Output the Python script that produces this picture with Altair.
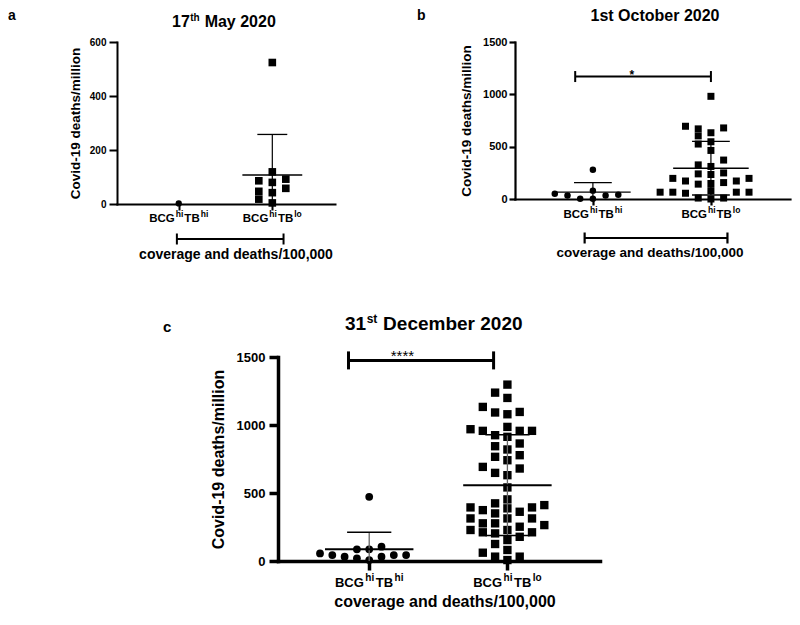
import altair as alt
import pandas as pd

# ------------------------------------------------------------------ data
cat_pos = [1, 2]                 # BCG^hi TB^hi , BCG^hi TB^lo
cat_sup2 = ["hi", "lo"]          # second superscript of each category label

# a : 17th May 2020
a_hi = [2]
a_lo = [524, 119, 92, 58, 4, 86, 42, 80, 47, 18]
# b : 1st October 2020
b_hi = [80, 3, 50, 280, 34, 40, 3, 34]
b_lo = [981, 695, 633, 679, 603, 670, 547, 525, 464, 372, 326, 311, 197, 172,
        234, 249, 172, 240, 197, 80, 142, 148, 157, 65, 65, 55, 65, 65, 9, 9, 0]
# c : 31st December 2020
c_hi = [105, 32, 56, 44, 44, 472, 86, 7, 44, 86, 20, 32]
c_lo = [1297, 1199, 1238, 1096, 1079, 1092, 1133, 969, 957, 957, 957, 913, 986, 925,
        820, 766, 692, 864, 844, 778, 741, 648, 631, 680, 541, 453, 394, 394, 424,
        411, 374, 387, 362, 350, 313, 313, 277, 277, 264, 313, 252, 211, 228, 228,
        203, 178, 211, 154, 125, 81, 61, 7, 32, 32]

a_yticks = [0, 200, 400, 600]
bc_yticks = [0, 500, 1000, 1500]

b_sig = {"x1": 0.85, "x2": 2.0, "y": 1170, "sx": 1.33, "label": "*"}
c_sig = {"x1": 0.85, "x2": 1.9, "y": 1475, "sx": 1.24, "label": "****"}
a_group_bracket = [0.98, 2.12]
b_group_bracket = [0.93, 2.14]

y_title = "Covid-19 deaths/million"
x_title = "coverage and deaths/100,000"

# ------------------------------------------------------------------ helpers
FONT = "Liberation Sans"
XDOM = [0.34, 2.67]
CW = {"0": 556, "1": 556, "2": 556, "3": 556, "7": 556, " ": 278, "M": 833, "a": 556,
      "y": 556, "t": 333, "h": 611, "s": 556, "D": 722, "e": 556, "c": 556, "m": 889,
      "b": 611, "r": 389, "B": 722, "C": 722, "G": 778, "T": 611, "i": 278, "l": 278,
      "o": 611, "O": 778}


def tw(s, size):
    return sum(CW.get(ch, 556) for ch in s) / 1000.0 * size


def swarm_cols(vals, px_per_val, marker_px):
    order = sorted(range(len(vals)), key=lambda i: vals[i])
    cands = [0] + [s * j for j in range(1, 30) for s in (-1, 1)]
    placed, cols = [], [0] * len(vals)
    for i in order:
        y = vals[i] * px_per_val
        for c in cands:
            if all(pc != c or abs(py - y) >= marker_px for pc, py in placed):
                cols[i] = c
                placed.append((c, y))
                break
    return cols


def text_layer(text, x, y, size, align="left", weight="bold"):
    return alt.Chart(alt.Data(values=[{"k": 0}])).mark_text(
        text=text, align=align, baseline="alphabetic", font=FONT, fontSize=size,
        fontWeight=weight, color="black").encode(x=alt.value(x), y=alt.value(y))


def rich_text(pieces, x0, y):
    layers, x = [], x0
    for t, size, rise, gap_before in pieces:
        x += gap_before
        layers.append(text_layer(t, x, y - rise, size))
        x += tw(t, size) + 0.5
    return layers


def frame_layer(l, r, t, b):
    return alt.Chart(alt.Data(values=[{"k": 0}])).mark_rect(opacity=0).encode(
        x=alt.value(l), x2=alt.value(r), y=alt.value(t), y2=alt.value(b))


def build_panel(P):
    W, H, ymax = P["W"], P["H"], P["ymax"]
    pxu = W / (XDOM[1] - XDOM[0])
    pxv = H / ymax
    xs = alt.Scale(domain=XDOM, nice=False, zero=False)
    ys = alt.Scale(domain=[0, ymax], nice=False, zero=True)
    xaxis = alt.Axis(values=cat_pos, grid=False, labels=False, title=None,
                     tickSize=P["xtick"], tickWidth=P["lw"], tickColor="black",
                     domainColor="black", domainWidth=P["lw"], domainCap="square")
    yaxis = alt.Axis(values=P["yticks"], grid=False, title=y_title, titleFont=FONT,
                     titleFontSize=P["ytitle_size"], titleFontWeight="bold",
                     titleColor="black", titleAngle=270, titleX=P["ytitle_x"],
                     titleY=H / 2, titleAlign="center", titleBaseline="alphabetic",
                     labelFont=FONT, labelFontSize=P["ylabel_size"], labelFontWeight="bold",
                     labelColor="black", labelPadding=P["ylabel_pad"], tickSize=P["ytick"],
                     tickWidth=P["lw"], tickColor="black", domainColor="black",
                     domainWidth=P["lw"], domainCap="square", format="d")

    def X(f):
        return alt.X(f + ":Q", scale=xs, axis=xaxis)

    def Y(f):
        return alt.Y(f + ":Q", scale=ys, axis=yaxis)

    layers = [frame_layer(*P["frame"])]

    # points (beeswarm columns computed from values)
    stats = []
    for pos, vals, shape in [(1, P["hi"], "circle"), (2, P["lo"], "square")]:
        cols = swarm_cols(vals, pxv, P["marker_px"])
        df = pd.DataFrame({"x": [pos + c * P["col_px"] / pxu for c in cols], "y": vals})
        if shape == "circle":
            mk = alt.Chart(df).mark_point(shape="circle", filled=True, size=P["circ"],
                                          color="black", opacity=1)
        else:
            mk = alt.Chart(df).mark_square(size=P["sq"], color="black", opacity=1)
        layers.append(mk.encode(x=X("x"), y=Y("y")))
        if len(vals) > 1:
            s = pd.Series(vals)
            m, sd = float(s.mean()), float(s.std(ddof=1))
            stats.append({"pos": pos, "mean": m, "hi": m + sd, "lo": max(m - sd, 0.0),
                          "lo_raw": m - sd, "mx1": pos - 0.32, "mx2": pos + 0.32,
                          "cx1": pos - 0.16, "cx2": pos + 0.16})
    st = pd.DataFrame(stats)
    layers.append(alt.Chart(st).mark_rule(color=P["sd_color"], strokeWidth=P["sd_w"]).encode(
        x=X("pos"), y=Y("lo"), y2=alt.Y2("hi")))
    layers.append(alt.Chart(st).mark_rule(color="black", strokeWidth=P["cap_w"]).encode(
        x=X("cx1"), x2=alt.X2("cx2"), y=Y("hi")))
    st_low = st[st["lo_raw"] > 0]
    if len(st_low):
        layers.append(alt.Chart(st_low).mark_rule(color="black", strokeWidth=P["cap_w"]).encode(
            x=X("cx1"), x2=alt.X2("cx2"), y=Y("lo")))
    layers.append(alt.Chart(st).mark_rule(color="black", strokeWidth=P["mean_w"]).encode(
        x=X("mx1"), x2=alt.X2("mx2"), y=Y("mean")))

    # significance bracket
    sig = P.get("sig")
    if sig:
        sdf = pd.DataFrame([sig])
        layers.append(alt.Chart(sdf).mark_rule(color="black", strokeWidth=P["sig_w"]).encode(
            x=X("x1"), x2=alt.X2("x2"), y=Y("y")))
        cdf = pd.DataFrame({"x": [sig["x1"], sig["x2"]], "y": [sig["y"], sig["y"]]})
        layers.append(alt.Chart(cdf).mark_tick(orient="vertical", size=P["sig_cap"],
                                               thickness=P["sig_w"], color="black",
                                               opacity=1).encode(x=X("x"), y=Y("y")))
        layers.append(alt.Chart(sdf).mark_text(font=FONT, fontSize=P["star_size"],
                                               fontWeight=P["star_weight"], color="black",
                                               align="center", baseline="alphabetic",
                                               dy=P["star_dy"]).encode(
            x=X("sx"), y=Y("y"), text="label:N"))

    # category labels with superscripts
    lab = pd.DataFrame({"pos": cat_pos, "sup": cat_sup2})
    fm, fs, gap, rise = P["cat_fm"], P["cat_fs"], P["cat_gap"], P["cat_rise"]
    w1, w2, w3, w4 = tw("BCG", fm), tw("hi", fs), tw("TB", fm), tw("hi", fs)
    x0 = -(w1 + w2 + w3 + w4 + 3 * gap) / 2
    pieces = [("BCG", fm, x0, 0), ("hi", fs, x0 + w1 + gap, rise),
              ("TB", fm, x0 + w1 + w2 + 2 * gap, 0), (None, fs, x0 + w1 + w2 + w3 + 3 * gap, rise)]
    for t, size, dx, r in pieces:
        kw = dict(align="left", baseline="alphabetic", font=FONT, fontSize=size,
                  fontWeight="bold", color="black", dx=dx, dy=-r)
        if t is not None:
            layers.append(alt.Chart(lab).mark_text(text=t, **kw).encode(
                x=X("pos"), y=alt.value(P["cat_y"])))
        else:
            layers.append(alt.Chart(lab).mark_text(**kw).encode(
                x=X("pos"), y=alt.value(P["cat_y"]), text="sup:N"))

    # group bracket under the labels
    gb = P.get("gbracket")
    if gb:
        by = P["gb_y"]
        layers.append(alt.Chart(pd.DataFrame({"x1": [gb[0]], "x2": [gb[1]]})).mark_rule(
            color="black", strokeWidth=P["gb_w"]).encode(x=X("x1"), x2=alt.X2("x2"), y=alt.value(by)))
        layers.append(alt.Chart(pd.DataFrame({"x": gb})).mark_rule(
            color="black", strokeWidth=P["gb_w"]).encode(
            x=X("x"), y=alt.value(by - 5.5), y2=alt.value(by + 5.5)))

    # x title, panel letter, panel title
    layers.append(text_layer(x_title, P["xt_x"], P["xt_y"], P["xt_size"], align="center"))
    layers.append(text_layer(P["letter"], P["letter_xy"][0], P["letter_xy"][1], P["letter_size"]))
    layers += P["title_layers"]

    return alt.layer(*layers).properties(width=W, height=H)


# plot origins (page): a (117, 42), b (515, 42), c (278, 357)
PA = dict(W=218, H=162, ymax=600, yticks=a_yticks, hi=a_hi, lo=a_lo, lw=2,
          xtick=6, ytick=8, ylabel_pad=3, ylabel_size=10, ytitle_size=13.5, ytitle_x=-37.7,
          circ=40, sq=58, marker_px=7.7, col_px=13.5,
          sd_color="black", sd_w=1.2, cap_w=1.3, mean_w=1.5,
          frame=(-109, 283, -34, 248),
          cat_fm=11.5, cat_fs=8.5, cat_gap=1.0, cat_rise=5, cat_y=180,
          gbracket=a_group_bracket, gb_y=197, gb_w=2,
          xt_x=119, xt_y=217, xt_size=14,
          letter="a", letter_xy=(-109, -22), letter_size=14,
          title_layers=rich_text([("17", 16, 0, 0), ("th", 10, 6, 0), ("May 2020", 16, 0, 4.4)], 55, -15))

PB = dict(W=275, H=157, ymax=1500, yticks=bc_yticks, hi=b_hi, lo=b_lo, lw=2.2,
          xtick=6, ytick=6, ylabel_pad=2, ylabel_size=11, ytitle_size=13.5, ytitle_x=-45,
          circ=42, sq=49, marker_px=7, col_px=12.7,
          sd_color="black", sd_w=1.2, cap_w=1.3, mean_w=1.4,
          frame=(-115, 277, -34, 248),
          sig=b_sig, sig_w=2, sig_cap=11, star_size=12, star_weight="bold", star_dy=2,
          cat_fm=11.5, cat_fs=8.5, cat_gap=1.0, cat_rise=5, cat_y=176,
          gbracket=b_group_bracket, gb_y=196, gb_w=2.2,
          xt_x=135, xt_y=215, xt_size=13.5,
          letter="b", letter_xy=(-98, -22), letter_size=14,
          title_layers=[text_layer("1st October 2020", 140, -21, 16, align="center")])

PC = dict(W=322, H=204, ymax=1500, yticks=bc_yticks, hi=c_hi, lo=c_lo, lw=3.5,
          xtick=9, ytick=9, ylabel_pad=4, ylabel_size=13, ytitle_size=16, ytitle_x=-55,
          circ=60, sq=70, marker_px=8.3, col_px=12.3,
          sd_color="#666666", sd_w=1.3, cap_w=1.5, mean_w=2,
          frame=(-150, 330, -67, 254),
          sig=c_sig, sig_w=3, sig_cap=18, star_size=15, star_weight="normal", star_dy=1,
          cat_fm=13, cat_fs=10, cat_gap=1.5, cat_rise=6, cat_y=230,
          xt_x=167, xt_y=250, xt_size=16,
          letter="c", letter_xy=(-115, -25), letter_size=15,
          title_layers=rich_text([("31", 19, 0, 0), ("st", 12, 7, 0), ("December 2020", 19, 0, 5.3)], 67, -27))

pa, pb, pc = build_panel(PA), build_panel(PB), build_panel(PC)

# spacer shifts panel c to the right of panel a's origin
spacer = frame_layer(0, 11, 0, 10).properties(width=11, height=10)

chart = alt.vconcat(
    alt.hconcat(pa, pb, spacing=0),
    alt.hconcat(spacer, pc, spacing=0),
    spacing=0,
).properties(padding=0, background="white").configure_view(strokeWidth=0)

chart.save("out.html", embed_options={"renderer": "svg", "actions": False})
